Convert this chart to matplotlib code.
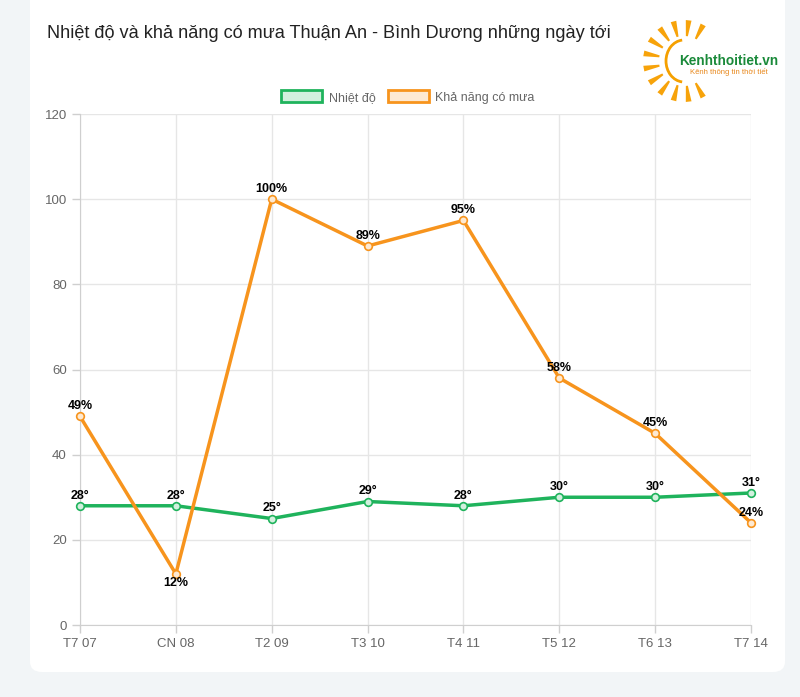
import numpy as np
import matplotlib.pyplot as plt
from matplotlib.patches import FancyBboxPatch, Arc, Rectangle, Polygon

plt.rcParams['font.family'] = ['Liberation Sans', 'DejaVu Sans']

# dữ liệu
days = ['T7 07', 'CN 08', 'T2 09', 'T3 10', 'T4 11', 'T5 12', 'T6 13', 'T7 14']
temps = [28, 28, 25, 29, 28, 30, 30, 31]
rain = [49, 12, 100, 89, 95, 58, 45, 24]

green = '#1fb35c'
orange = '#f7941d'

fig = plt.figure(figsize=(8, 6.97), dpi=100)
fig.patch.set_facecolor('#f2f5f7')

# thẻ trắng
card = FancyBboxPatch((30 / 800, 25 / 697), 755 / 800, 690 / 697,
                      boxstyle='round,pad=0,rounding_size=0.015',
                      transform=fig.transFigure, facecolor='white',
                      edgecolor='none', zorder=-10)
fig.patches.append(card)

ax = fig.add_axes([80 / 800, 1 - 625 / 697, 671 / 800, 511 / 697])
ax.set_facecolor('none')

x = np.arange(len(days))
ax.plot(x, temps, color=green, lw=2.5, marker='o', ms=5.5,
        mfc='#d2f0de', mec=green, mew=1.2, zorder=3, clip_on=False)
ax.plot(x, rain, color=orange, lw=2.5, marker='o', ms=5.5,
        mfc='#fde9d2', mec=orange, mew=1.2, zorder=3, clip_on=False)

for i in range(len(days)):
    ax.annotate(f'{temps[i]}°', (x[i], temps[i]), xytext=(0, 3),
                textcoords='offset points', ha='center', va='bottom',
                fontsize=9, fontweight='bold', color='black', zorder=4)
    ax.annotate(f'{rain[i]}%', (x[i], rain[i]), xytext=(0, 3 if i != 1 else -2),
                textcoords='offset points', ha='center',
                va='bottom' if i != 1 else 'top',
                fontsize=9, fontweight='bold', color='black', zorder=4)

ax.set_xlim(0, len(days) - 1)
ax.set_ylim(0, 120)
ax.set_yticks(range(0, 121, 20))
ax.set_xticks(x)
ax.set_xticklabels(days)
ax.tick_params(colors='#cfcfcf', labelcolor='#666666', labelsize=9.5,
               length=6, width=1)
ax.grid(True, color='#e6e6e6', lw=1)
for s in ['top', 'right']:
    ax.spines[s].set_visible(False)
for s in ['left', 'bottom']:
    ax.spines[s].set_color('#cfcfcf')

# chú thích
handles = [Rectangle((0, 0), 1, 1, facecolor='#d2f0de', edgecolor=green, lw=2),
           Rectangle((0, 0), 1, 1, facecolor='#fde9d2', edgecolor=orange, lw=2)]
fig.legend(handles, ['Nhiệt độ', 'Khả năng có mưa'], loc='center',
           bbox_to_anchor=(408 / 800, 1 - 97 / 697), ncol=2, frameon=False,
           fontsize=9, labelcolor='#666666', handlelength=3.3,
           handleheight=1.1, columnspacing=1.0, handletextpad=0.5)

fig.text(47 / 800, 1 - 33 / 697,
         'Nhiệt độ và khả năng có mưa Thuận An - Bình Dương những ngày tới',
         fontsize=13.1, color='#222222', va='center', ha='left')

# logo
cx, cy = 684, 61
lax = fig.add_axes([0, 0, 1, 1])
lax.patch.set_visible(False)
lax.set_xlim(0, 800)
lax.set_ylim(697, 0)
lax.axis('off')
lax.add_patch(Arc((cx, cy), 36, 42, theta1=95, theta2=265,
                  color='#f5a000', lw=2))
for ang in np.linspace(62, 298, 12):
    a = np.deg2rad(ang)
    r1, r2 = 25, 41
    w1, w2 = 0.04, 0.07
    pts = [(cx + r1 * np.cos(a - w1), cy - r1 * np.sin(a - w1)),
           (cx + r2 * np.cos(a - w2), cy - r2 * np.sin(a - w2)),
           (cx + r2 * np.cos(a + w2), cy - r2 * np.sin(a + w2)),
           (cx + r1 * np.cos(a + w1), cy - r1 * np.sin(a + w1))]
    lax.add_patch(Polygon(pts, closed=True, facecolor='#f7a30a',
                          edgecolor='none'))
lax.text(679, 61, 'Kenhthoitiet.vn', color='#1a8a3a', fontsize=9.8,
         fontweight='bold', va='center', ha='left')
lax.text(690, 72, 'Kênh thông tin thời tiết', color='#e8871a',
         fontsize=5.5, va='center', ha='left')

fig.savefig('out.png', dpi=100, facecolor=fig.get_facecolor())
